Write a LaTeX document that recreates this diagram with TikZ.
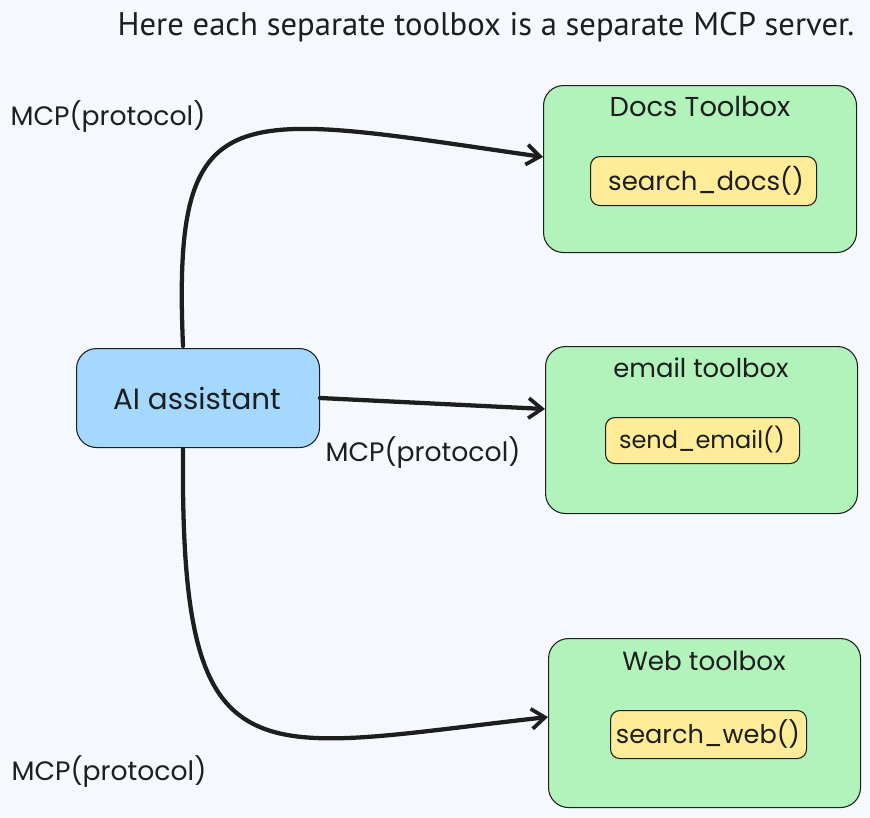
\documentclass[tikz,border=0pt]{standalone}
\usepackage{fontspec}
\setmainfont{Poppins}
\newfontfamily\notefont{PT Sans}
\usetikzlibrary{arrows.meta}
\definecolor{bgc}{HTML}{F5F9FD}
\definecolor{bluefill}{HTML}{A5D8FF}
\definecolor{greenfill}{HTML}{B2F2BB}
\definecolor{yellowfill}{HTML}{FFEC99}
\definecolor{ink}{HTML}{1E1E1E}
\newcommand{\fsz}[1]{\fontsize{#1}{#1}\selectfont}
\tikzset{
  box/.style={draw=ink, line width=0.8pt, rounded corners=15pt},
  toolbox/.style={box, fill=greenfill},
  fnbox/.style={draw=ink, line width=0.8pt, rounded corners=7pt, fill=yellowfill},
  lbl/.style={text=ink, inner sep=0pt},
  conn/.style={draw=ink, line width=3.2pt, line cap=round, -{Straight Barb[length=10pt,width=15pt,line width=2.8pt]}}
}
\begin{document}
\begin{tikzpicture}[x=0.75pt,y=-0.75pt]
\fill[bgc] (0,0) rectangle (870,817);
\useasboundingbox (0,0) rectangle (870,817);
% boxes
\node[box, fill=bluefill, minimum width=243*0.75pt, minimum height=99*0.75pt, anchor=north west] (ai) at (76,348) {};
\node[lbl, font=\fsz{22}] (ailbl) at (197,398) {AI assistant};
\node[toolbox, minimum width=313*0.75pt, minimum height=167*0.75pt, anchor=north west] (docs) at (543,85) {};
\node[lbl, font=\fsz{20.5}] (docst) at (700,107) {Docs Toolbox};
\node[fnbox, minimum width=226*0.75pt, minimum height=49*0.75pt, anchor=north west] (sd) at (590,156) {};
\node[lbl, font=\fsz{19.5}] (sdl) at (706,181) {search\_docs()};
\node[toolbox, minimum width=312*0.75pt, minimum height=167*0.75pt, anchor=north west] (email) at (545,346) {};
\node[lbl, font=\fsz{19.4}] (emailt) at (701,368) {email toolbox};
\node[fnbox, minimum width=194*0.75pt, minimum height=46*0.75pt, anchor=north west] (se) at (605,417) {};
\node[lbl, font=\fsz{18}] (sel) at (702,440) {send\_email()};
\node[toolbox, minimum width=312*0.75pt, minimum height=169*0.75pt, anchor=north west] (web) at (548,638) {};
\node[lbl, font=\fsz{19.7}] (webt) at (704,661) {Web toolbox};
\node[fnbox, minimum width=196*0.75pt, minimum height=48*0.75pt, anchor=north west] (sw) at (610,710) {};
\node[lbl, font=\fsz{19.2}] (swl) at (708,734) {search\_web()};
% top note
\node[lbl, font=\notefont\fsz{24.5}] (note) at (486,27) {Here each separate toolbox is a separate MCP server.};
% labels
\node[lbl, font=\fsz{20}] (l1) at (108,117) {MCP(protocol)};
\node[lbl, font=\fsz{20}] (l2) at (423,453) {MCP(protocol)};
\node[lbl, font=\fsz{20}] (l3) at (109,772) {MCP(protocol)};
% connectors
\coordinate (a1) at (183,346);
\coordinate (a2) at (183,449);
\draw[conn] (a1) .. controls (172,90) and (230,112) .. (docs.west|-0,157);
\draw[conn] (ai.east|-0,398) -- (email.west|-0,409);
\draw[conn] (a2) .. controls (180,790) and (250,750) .. (web.west|-0,717);
\end{tikzpicture}
\end{document}
